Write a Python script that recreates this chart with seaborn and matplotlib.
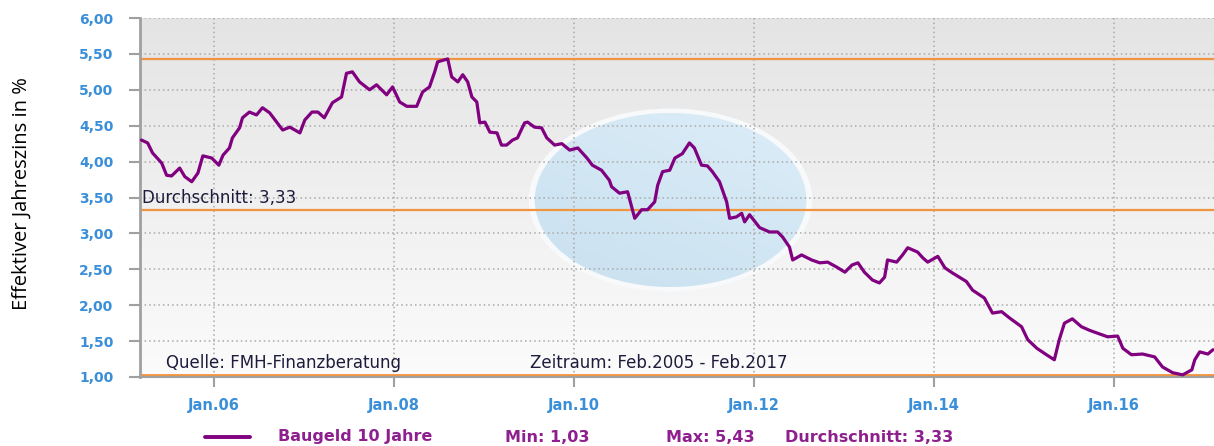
import matplotlib
matplotlib.use("Agg")
import matplotlib.pyplot as plt
from matplotlib.patches import Ellipse
from matplotlib.lines import Line2D
import numpy as np
import pandas as pd
import seaborn as sns

# ---------------- data ----------------
dates = [
    "2005-03-12", "2005-04-06", "2005-04-26", "2005-06-02", "2005-06-22", "2005-07-12",
    "2005-08-14", "2005-09-04", "2005-10-02", "2005-10-27", "2005-11-16", "2005-12-22",
    "2006-01-20", "2006-02-06", "2006-03-04", "2006-03-16", "2006-04-14", "2006-04-26",
    "2006-05-24", "2006-06-22", "2006-07-16", "2006-08-14", "2006-09-12", "2006-10-06",
    "2006-11-04", "2006-12-15", "2007-01-04", "2007-02-02", "2007-02-26", "2007-03-24",
    "2007-04-26", "2007-06-02", "2007-06-22", "2007-07-16", "2007-08-14", "2007-09-24",
    "2007-10-22", "2007-12-02", "2007-12-26", "2008-01-24", "2008-02-22", "2008-04-02",
    "2008-04-26", "2008-05-24", "2008-06-14", "2008-06-26", "2008-08-06", "2008-08-22",
    "2008-09-16", "2008-10-06", "2008-10-26", "2008-11-12", "2008-12-02", "2008-12-14",
    "2009-01-04", "2009-01-24", "2009-02-22", "2009-03-12", "2009-04-02", "2009-04-26",
    "2009-05-16", "2009-06-14", "2009-06-26", "2009-07-24", "2009-08-22", "2009-09-12",
    "2009-10-14", "2009-11-12", "2009-12-14", "2010-01-16", "2010-02-22", "2010-03-16",
    "2010-04-22", "2010-05-24", "2010-06-02", "2010-07-04", "2010-08-06", "2010-09-04",
    "2010-10-02", "2010-10-26", "2010-11-24", "2010-12-06", "2010-12-26", "2011-01-24",
    "2011-02-14", "2011-03-16", "2011-04-14", "2011-05-04", "2011-06-02", "2011-06-26",
    "2011-07-16", "2011-08-14", "2011-09-12", "2011-09-24", "2011-10-22", "2011-11-12",
    "2011-11-24", "2011-12-14", "2012-01-24", "2012-03-04", "2012-04-06", "2012-04-26",
    "2012-05-24", "2012-06-06", "2012-07-12", "2012-08-22", "2012-09-24", "2012-10-26",
    "2012-12-02", "2013-01-04", "2013-02-02", "2013-02-26", "2013-03-24", "2013-04-26",
    "2013-05-24", "2013-06-14", "2013-06-26", "2013-08-02", "2013-08-26", "2013-09-16",
    "2013-10-26", "2013-11-16", "2013-12-06", "2014-01-16", "2014-02-14", "2014-03-16",
    "2014-05-12", "2014-06-06", "2014-07-24", "2014-08-26", "2014-10-02", "2014-11-04",
    "2014-12-22", "2015-01-16", "2015-02-22", "2015-04-02", "2015-05-04", "2015-05-24",
    "2015-06-14", "2015-07-16", "2015-08-22", "2015-09-24", "2015-11-04", "2015-12-06",
    "2016-01-16", "2016-02-06", "2016-03-12", "2016-04-26", "2016-06-14", "2016-07-16",
    "2016-08-26", "2016-10-06", "2016-11-12", "2016-11-24", "2016-12-14", "2017-01-16",
    "2017-02-06",
]
rates = [
    4.30, 4.26, 4.12, 3.98, 3.81, 3.80,
    3.91, 3.79, 3.72, 3.84, 4.08, 4.05,
    3.95, 4.09, 4.19, 4.33, 4.47, 4.61,
    4.69, 4.65, 4.75, 4.68, 4.55, 4.44,
    4.48, 4.40, 4.58, 4.69, 4.69, 4.61,
    4.82, 4.90, 5.23, 5.25, 5.11, 5.00,
    5.07, 4.93, 5.04, 4.83, 4.77, 4.77,
    4.97, 5.04, 5.25, 5.39, 5.43, 5.18,
    5.11, 5.21, 5.11, 4.90, 4.83, 4.54,
    4.55, 4.41, 4.40, 4.23, 4.23, 4.30,
    4.33, 4.54, 4.55, 4.48, 4.47, 4.33,
    4.23, 4.25, 4.16, 4.19, 4.05, 3.95,
    3.88, 3.74, 3.65, 3.56, 3.58, 3.21,
    3.33, 3.33, 3.44, 3.67, 3.86, 3.88,
    4.05, 4.11, 4.26, 4.19, 3.95, 3.94,
    3.86, 3.72, 3.44, 3.21, 3.23, 3.28,
    3.16, 3.26, 3.08, 3.02, 3.02, 2.95,
    2.81, 2.63, 2.70, 2.63, 2.59, 2.60,
    2.53, 2.46, 2.56, 2.59, 2.46, 2.35,
    2.31, 2.39, 2.63, 2.60, 2.70, 2.80,
    2.74, 2.66, 2.60, 2.68, 2.52, 2.45,
    2.33, 2.21, 2.10, 1.89, 1.91, 1.82,
    1.70, 1.52, 1.40, 1.31, 1.24, 1.52,
    1.75, 1.81, 1.70, 1.65, 1.60, 1.56,
    1.57, 1.40, 1.31, 1.32, 1.28, 1.14,
    1.06, 1.03, 1.10, 1.24, 1.35, 1.32,
    1.38,
]
x_tick_dates = ["2006-01-01", "2008-01-01", "2010-01-01", "2012-01-01", "2014-01-01", "2016-01-01"]
x_tick_labels = ["Jan.06", "Jan.08", "Jan.10", "Jan.12", "Jan.14", "Jan.16"]
y_ticks = [1.0, 1.5, 2.0, 2.5, 3.0, 3.5, 4.0, 4.5, 5.0, 5.5, 6.0]
series_name = "Baugeld 10 Jahre"
min_rate = 1.03
max_rate = 5.43
avg_rate = 3.33

df = pd.DataFrame({"Datum": pd.to_datetime(dates), "Zins": rates})


def de(v):
    return f"{v:.2f}".replace(".", ",")


# ---------------- style ----------------
sns.set_style("white")
plt.rcParams["font.family"] = ["DejaVu Sans"]

fig = plt.figure(figsize=(12.14, 4.46), dpi=100)
ax = fig.add_axes([140 / 1214, 69 / 446, 1074 / 1214, 359 / 446])

blue = "#3a8fd8"
purple = "#800080"
orange = "#f09440"
grid_c = "#a9a9a9"

# background gradient
grad = np.linspace(0, 1, 256).reshape(-1, 1)
bg = np.ones((256, 1, 3))
top_c = np.array([0.895, 0.895, 0.895])
bot_c = np.array([0.985, 0.985, 0.985])
bg[:, 0, :] = top_c * (1 - grad) + bot_c * grad
ax.imshow(bg, extent=[0, 1, 0, 1], transform=ax.transAxes, aspect="auto", zorder=0)

# watermark ellipse (logo background)
ell_glow = Ellipse((0.494, 0.493), 0.264, 0.510, transform=ax.transAxes,
                   facecolor="#f7f9fb", edgecolor="none", zorder=0.5)
ax.add_patch(ell_glow)
ell = Ellipse((0.494, 0.493), 0.253, 0.485, transform=ax.transAxes,
              facecolor="none", edgecolor="none", zorder=0.6)
ax.add_patch(ell)
eg = np.zeros((256, 256, 4))
yy = np.linspace(0, 1, 256).reshape(-1, 1, 1)
xx = np.linspace(0, 1, 256).reshape(1, -1, 1)
c1 = np.array([0.86, 0.93, 0.97])
c2 = np.array([0.79, 0.88, 0.94])
mix = np.clip(0.6 * yy + 0.4 * (1 - xx), 0, 1)
eg[:, :, :3] = c1 * (1 - mix) + c2 * mix
eg[:, :, 3] = 1.0
im = ax.imshow(eg, extent=[0.367, 0.621, 0.25, 0.736], transform=ax.transAxes,
               aspect="auto", zorder=0.6)
im.set_clip_path(ell)

# grid
for yv in y_ticks:
    ax.axhline(yv, color=grid_c, lw=1.1, ls=(0, (1, 2)), zorder=1)
for xd in x_tick_dates:
    ax.axvline(pd.Timestamp(xd), color=grid_c, lw=1.1, ls=(0, (1, 2)), zorder=1)

# reference lines
ax.axhline(max_rate, color=orange, lw=1.6, zorder=2)
ax.axhline(avg_rate, color=orange, lw=1.6, zorder=2)
ax.axhline(min_rate, color=orange, lw=2.0, zorder=2)

# main series
sns.lineplot(data=df, x="Datum", y="Zins", ax=ax, color=purple, lw=2.3, zorder=3,
             legend=False)

ax.set_xlim(pd.Timestamp("2005-03-06"), pd.Timestamp("2017-02-10"))
ax.set_ylim(1.0, 6.0)

ax.set_yticks(y_ticks)
ax.set_yticklabels([de(v) for v in y_ticks])
ax.set_xticks([pd.Timestamp(d) for d in x_tick_dates])
ax.set_xticklabels(x_tick_labels)
ax.set_xlabel("")
ax.set_ylabel("")

ax.tick_params(axis="y", which="both", left=True, length=8, width=1.5, color="#a0a0a0",
               pad=11, labelcolor=blue, labelsize=10)
ax.tick_params(axis="x", which="both", bottom=True, length=7, width=1.5, color="#a0a0a0",
               pad=8, labelcolor=blue, labelsize=10.5)
for lab in ax.get_yticklabels() + ax.get_xticklabels():
    lab.set_fontweight("bold")

for s in ["top", "right"]:
    ax.spines[s].set_visible(False)
ax.spines["left"].set_color("#a0a0a0")
ax.spines["left"].set_linewidth(2)
ax.spines["bottom"].set_color("#a0a0a0")
ax.spines["bottom"].set_linewidth(1.5)

# annotations inside the plot
txt_c = "#1c1c3c"
ax.text(pd.Timestamp("2005-03-14"), avg_rate + 0.04, "Durchschnitt: " + de(avg_rate),
        color=txt_c, fontsize=12, va="bottom", ha="left", zorder=4)
ax.text(pd.Timestamp("2005-06-20"), 1.19, "Quelle: FMH-Finanzberatung",
        color=txt_c, fontsize=12, va="center", ha="left", zorder=4)
ax.text(pd.Timestamp("2009-07-05"), 1.19, "Zeitraum: Feb.2005 - Feb.2017",
        color=txt_c, fontsize=12, va="center", ha="left", zorder=4)

# y label
fig.text(22 / 1214, 1 - 194 / 446, "Effektiver Jahreszins in %", rotation=90,
         ha="center", va="center", fontsize=14.5, color="black",
         family=["Open Sans", "DejaVu Sans"])

# bottom legend
leg_y = 1 - 437 / 446
fig.add_artist(Line2D([205 / 1214, 250 / 1214], [leg_y, leg_y], color=purple, lw=2.8,
                      transform=fig.transFigure))
leg_c = "#8e1f8e"
fig.text(278 / 1214, leg_y, series_name, color=leg_c, fontsize=11.5, fontweight="bold", va="center")
fig.text(505 / 1214, leg_y, "Min: " + de(min_rate), color=leg_c,
         fontsize=11.5, fontweight="bold", va="center")
fig.text(666 / 1214, leg_y, "Max: " + de(max_rate), color=leg_c,
         fontsize=11.5, fontweight="bold", va="center")
fig.text(785 / 1214, leg_y, "Durchschnitt: " + de(avg_rate), color=leg_c,
         fontsize=11.5, fontweight="bold", va="center")

fig.savefig("out.png", dpi=100, facecolor="white")
